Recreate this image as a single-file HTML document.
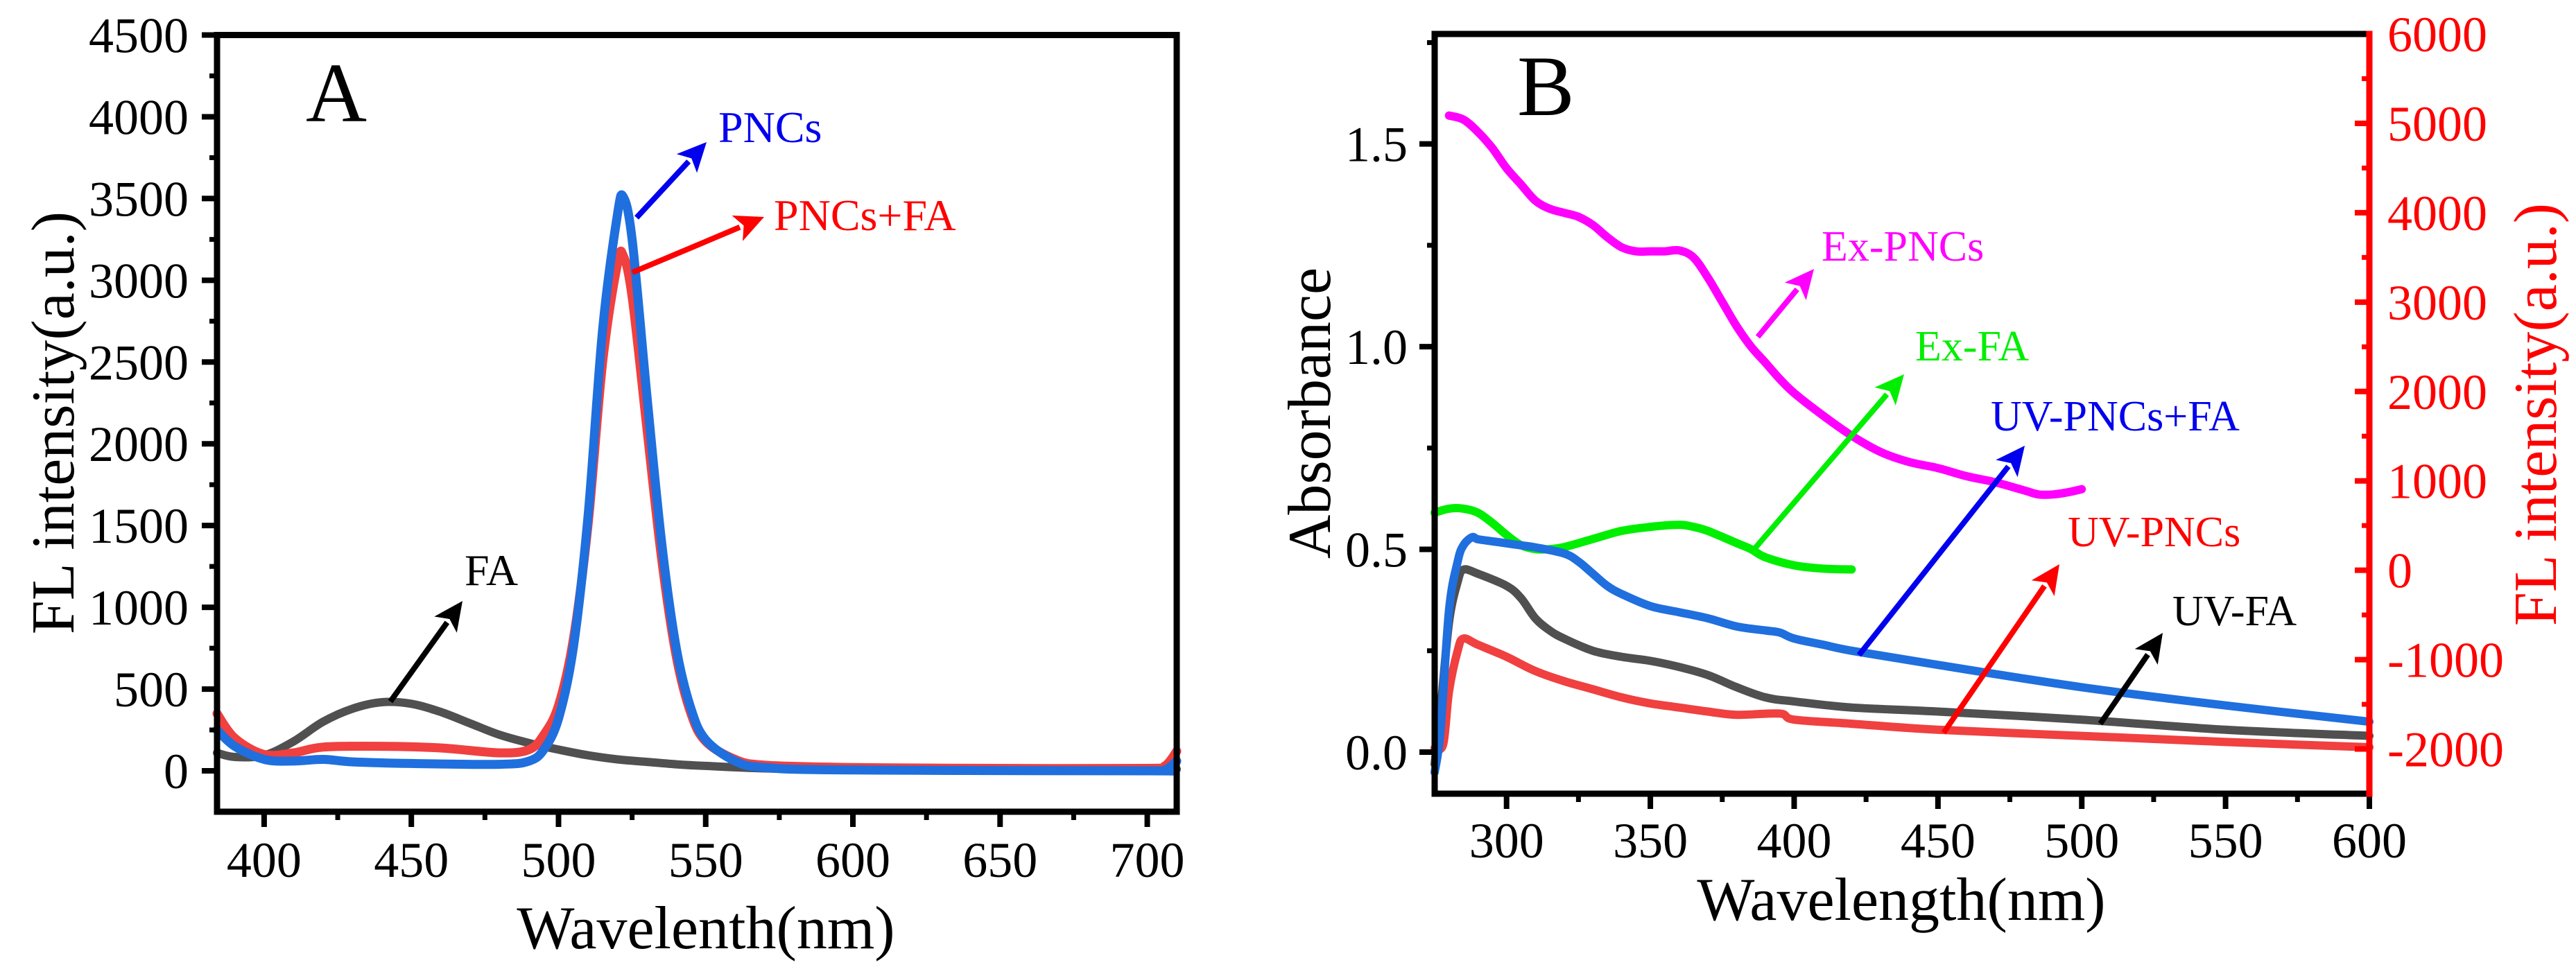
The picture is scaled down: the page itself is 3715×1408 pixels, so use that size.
<!DOCTYPE html>
<html><head><meta charset="utf-8"><style>
html,body{margin:0;padding:0;background:#fff;}
svg{display:block;font-family:"Liberation Serif","Times New Roman",serif;}
</style></head><body>
<svg id="fig" width="3715" height="1408" viewBox="0 0 3715 1408" xmlns="http://www.w3.org/2000/svg"></svg>
<script>
// ---------- Panel A data ----------
const aFAx = [384,390,400,410,420,430,440,450,460,470,480,490,500,510,520,530,540,550,570,600,650,700,710];
const aFAy = [110,85,95,180,300,380,420,410,360,290,220,170,130,95,70,55,40,30,15,5,0,0,10];
const aPFx = [384,390,400,410,420,440,460,480,490,495,500,505,510,515,520,522,525,530,535,540,545,550,560,570,600,650,700,706,710];
const aPFy = [350,200,100,110,145,150,140,110,130,220,400,800,1500,2500,3100,3150,2900,2100,1300,700,350,180,70,35,20,15,15,30,120];
const aPx = [384,390,400,410,420,430,450,480,490,495,500,505,510,515,520,522,525,530,535,540,545,550,560,570,600,700,706,710];
const aPy = [250,150,70,60,70,55,45,40,60,130,320,750,1550,2700,3400,3510,3250,2300,1400,750,380,190,60,20,5,0,5,60];
const aXTicks = [400,450,500,550,600,650,700];
const aYTicks = [0,500,1000,1500,2000,2500,3000,3500,4000,4500];
// ---------- Panel B data ----------
const bExPx = [280,285,290,295,300,305,310,315,320,325,330,335,340,345,350,355,360,365,370,375,380,385,390,395,400,410,420,430,440,450,460,470,480,485,490,495,500];
const bExPy = [5087,5042,4906,4725,4498,4317,4135,4045,3999,3954,3863,3727,3614,3568,3568,3568,3578,3500,3274,3002,2730,2503,2322,2140,1982,1732,1506,1324,1211,1143,1052,984,893,848,848,871,907];
const bExFx = [275,280,285,290,295,300,305,310,315,320,330,340,350,360,365,370,380,385,390,400,410,420];
const bExFy = [644,689,689,644,531,395,281,236,236,259,349,440,485,508,485,440,304,236,145,55,18,9];
const bUPFx = [275,277,280,283,285,288,290,295,300,305,310,320,325,330,335,340,350,360,370,380,390,395,400,410,420,450,500,550,600];
const bUPFy = [-0.05,0.05,0.35,0.47,0.51,0.53,0.525,0.52,0.515,0.51,0.505,0.49,0.47,0.44,0.41,0.39,0.36,0.345,0.33,0.31,0.3,0.295,0.28,0.265,0.25,0.215,0.16,0.115,0.075];
const bUFx = [275,277,280,283,285,290,300,305,310,315,320,330,340,350,360,370,380,390,400,420,450,500,550,600];
const bUFy = [-0.03,0.1,0.32,0.42,0.45,0.44,0.41,0.38,0.33,0.30,0.28,0.25,0.235,0.225,0.21,0.19,0.16,0.135,0.125,0.11,0.1,0.08,0.055,0.04];
const bUPx = [275,278,280,283,285,290,300,310,320,330,340,350,360,370,380,395,400,420,450,500,550,600];
const bUPy = [0.01,0.02,0.15,0.25,0.28,0.265,0.235,0.2,0.175,0.155,0.135,0.12,0.11,0.1,0.092,0.095,0.08,0.07,0.055,0.04,0.025,0.012];
const bXTicks = [300,350,400,450,500,550,600];
const bYTicks = [0,0.5,1,1.5];
const bYTickLabels = ["0.0","0.5","1.0","1.5"];
const bRTicks = [-2000,-1000,0,1000,2000,3000,4000,5000,6000];

const NS="http://www.w3.org/2000/svg";
const svg=document.getElementById('fig');
function el(tag,attrs,parent,text){const e=document.createElementNS(NS,tag);for(const k in attrs)e.setAttribute(k,attrs[k]);if(text!==undefined)e.textContent=text;(parent||svg).appendChild(e);return e;}

const axA={x:v=>313+(v-384)*(1697-313)/(710-384), y:v=>1171-(v+250)*(1171-50.5)/4750};
const axB={x:v=>2069+(v-275)*(3417-2069)/(600-275), y:v=>1085-v*584.9, yr:v=>49+(6000-v)*(1145-49)/8500};

function line(xs,ys,fx,fy,color,w,name){
  const P=xs.map((x,i)=>[fx(x),fy(ys[i])]);
  let d='M'+P[0][0].toFixed(1)+','+P[0][1].toFixed(1);
  for(let i=0;i<P.length-1;i++){
    const p0=P[Math.max(0,i-1)],p1=P[i],p2=P[i+1],p3=P[Math.min(P.length-1,i+2)];
    const c1=[p1[0]+(p2[0]-p0[0])/6,p1[1]+(p2[1]-p0[1])/6];
    const c2=[p2[0]-(p3[0]-p1[0])/6,p2[1]-(p3[1]-p1[1])/6];
    d+='C'+c1[0].toFixed(1)+','+c1[1].toFixed(1)+' '+c2[0].toFixed(1)+','+c2[1].toFixed(1)+' '+p2[0].toFixed(1)+','+p2[1].toFixed(1);
  }
  const p=el('path',{d:d,fill:'none',stroke:color,'stroke-width':w,'stroke-linejoin':'round','stroke-linecap':'round'});
  
  
}
function arrow(x1,y1,x2,y2,color,name){
  const g=el('g',{});
  
  
  const dx=x2-x1,dy=y2-y1,L=Math.hypot(dx,dy),ux=dx/L,uy=dy/L,hl=42,hw=20;
  const bx=x2-ux*hl,by=y2-uy*hl;
  el('line',{x1:x1,y1:y1,x2:bx+ux*4,y2:by+uy*4,stroke:color,'stroke-width':8},g);
  el('polygon',{points:`${x2},${y2} ${bx-uy*hw},${by+ux*hw} ${bx+ux*10},${by+uy*10} ${bx+uy*hw},${by-ux*hw}`,fill:color},g);
}
function txt(x,y,s,size,color,name,anchor,extra){
  const t=el('text',Object.assign({x:x,y:y,'font-size':size,fill:color,'text-anchor':anchor||'start'},extra||{}),svg,s);
  
  
  return t;
}

// ---------- Panel A ----------
line(aFAx,aFAy,axA.x,axA.y,'#505050',12,'fa-curve');
line(aPFx,aPFy,axA.x,axA.y,'#f04040',13,'pncs-fa-curve');
line(aPx,aPy,axA.x,axA.y,'#1f6fde',13,'pncs-curve');
aXTicks.forEach(v=>{const x=axA.x(v);el('line',{x1:x,y1:1171,x2:x,y2:1193,stroke:'#000','stroke-width':8});
  txt(x,1265,String(v),72,'#000','x-tick-label-a','middle');});
aXTicks.forEach(v=>{const x=axA.x(v+25);if(v+25<710)el('line',{x1:x,y1:1171,x2:x,y2:1183,stroke:'#000','stroke-width':7});});
aYTicks.forEach(v=>{const y=axA.y(v);el('line',{x1:291,y1:y,x2:313,y2:y,stroke:'#000','stroke-width':8});
  txt(272,y+25,String(v),72,'#000','y-tick-label-a','end');
  if(v<4500){const y2=axA.y(v+250);el('line',{x1:302,y1:y2,x2:313,y2:y2,stroke:'#000','stroke-width':7});}});
const frA=el('rect',{x:313,y:50.5,width:1384,height:1120.5,fill:'none',stroke:'#000','stroke-width':9});

txt(441,175,'A',122,'#000','panel-label-a');
txt(1018,1368,'Wavelenth(nm)',88,'#000','x-axis-title-a','middle');
txt(0,0,'FL intensity(a.u.)',88,'#000','y-axis-title-a','middle',{transform:'translate(106,610) rotate(-90)'});
arrow(918,314,1019,205,'#0000ee','pncs-arrow');
txt(1036,205,'PNCs',64,'#0000ee','pncs-label');
arrow(912,393,1102,313,'#ff0000','pncs-fa-arrow');
txt(1116,332,'PNCs+FA',64,'#ff0000','pncs-fa-label');
arrow(563,1012,667,867,'#000','fa-arrow');
txt(670,844,'FA',64,'#000','fa-label');

// ---------- Panel B ----------
line(bExPx,bExPy,axB.x,axB.yr,'#ff00ff',12,'ex-pncs-curve');
line(bExFx,bExFy,axB.x,axB.yr,'#00ee00',12,'ex-fa-curve');
line(bUFx,bUFy,axB.x,axB.y,'#505050',12,'uv-fa-curve');
line(bUPx,bUPy,axB.x,axB.y,'#f04040',12,'uv-pncs-curve');
line(bUPFx,bUPFy,axB.x,axB.y,'#1f6fde',12,'uv-pncs-fa-curve');
bXTicks.forEach(v=>{const x=axB.x(v);el('line',{x1:x,y1:1145,x2:x,y2:1167,stroke:'#000','stroke-width':8});
  txt(x,1237,String(v),72,'#000','x-tick-label-b','middle');});
[325,375,425,475,525,575].forEach(v=>{const x=axB.x(v);el('line',{x1:x,y1:1145,x2:x,y2:1157,stroke:'#000','stroke-width':7});});
bYTicks.forEach((v,i)=>{const y=axB.y(v);el('line',{x1:2047,y1:y,x2:2069,y2:y,stroke:'#000','stroke-width':8});
  txt(2030,y+25,bYTickLabels[i],72,'#000','y-tick-label-b','end');
  const y2=axB.y(v+0.25);el('line',{x1:2058,y1:y2,x2:2069,y2:y2,stroke:'#000','stroke-width':7});});
bRTicks.forEach(v=>{const y=axB.yr(v);el('line',{x1:3396,y1:y,x2:3417,y2:y,stroke:'#ff0000','stroke-width':8});
  txt(3443,y+25,String(v),72,'#ff0000','right-tick-label-b','start');
  const y2=axB.yr(v-500);el('line',{x1:3406,y1:y2,x2:3417,y2:y2,stroke:'#ff0000','stroke-width':7});});
el('line',{x1:2069,y1:49,x2:3417,y2:49,stroke:'#000','stroke-width':9});
el('line',{x1:2069,y1:1145,x2:3417,y2:1145,stroke:'#000','stroke-width':9});
el('line',{x1:2069,y1:44.5,x2:2069,y2:1149.5,stroke:'#000','stroke-width':9});
const ra=el('line',{x1:3417,y1:44.5,x2:3417,y2:1149.5,stroke:'#ff0000','stroke-width':9});

txt(2188,166,'B',124,'#000','panel-label-b');
txt(2742,1327,'Wavelength(nm)',88,'#000','x-axis-title-b','middle');
txt(0,0,'Absorbance',88,'#000','y-axis-title-b','middle',{transform:'translate(1918,596) rotate(-90)'});
txt(0,0,'FL intensity(a.u.)',88,'#ff0000','right-axis-title-b','middle',{transform:'translate(3686,598) rotate(-90)'});
arrow(2535,486,2616,388,'#ff00ff','ex-pncs-arrow');
txt(2627,376,'Ex-PNCs',62,'#ff00ff','ex-pncs-label');
arrow(2530,792,2746,540,'#00ee00','ex-fa-arrow');
txt(2762,520,'Ex-FA',62,'#00ee00','ex-fa-label');
arrow(2681,945,2920,643,'#0000ee','uv-pncs-fa-arrow');
txt(2871,621,'UV-PNCs+FA',62,'#0000ee','uv-pncs-fa-label');
arrow(2803,1057,2970,814,'#ff0000','uv-pncs-arrow');
txt(2982,788,'UV-PNCs',62,'#ff0000','uv-pncs-label');
arrow(3029,1044,3119,913,'#000','uv-fa-arrow');
txt(3133,902,'UV-FA',62,'#000','uv-fa-label');
</script>
</body></html>
